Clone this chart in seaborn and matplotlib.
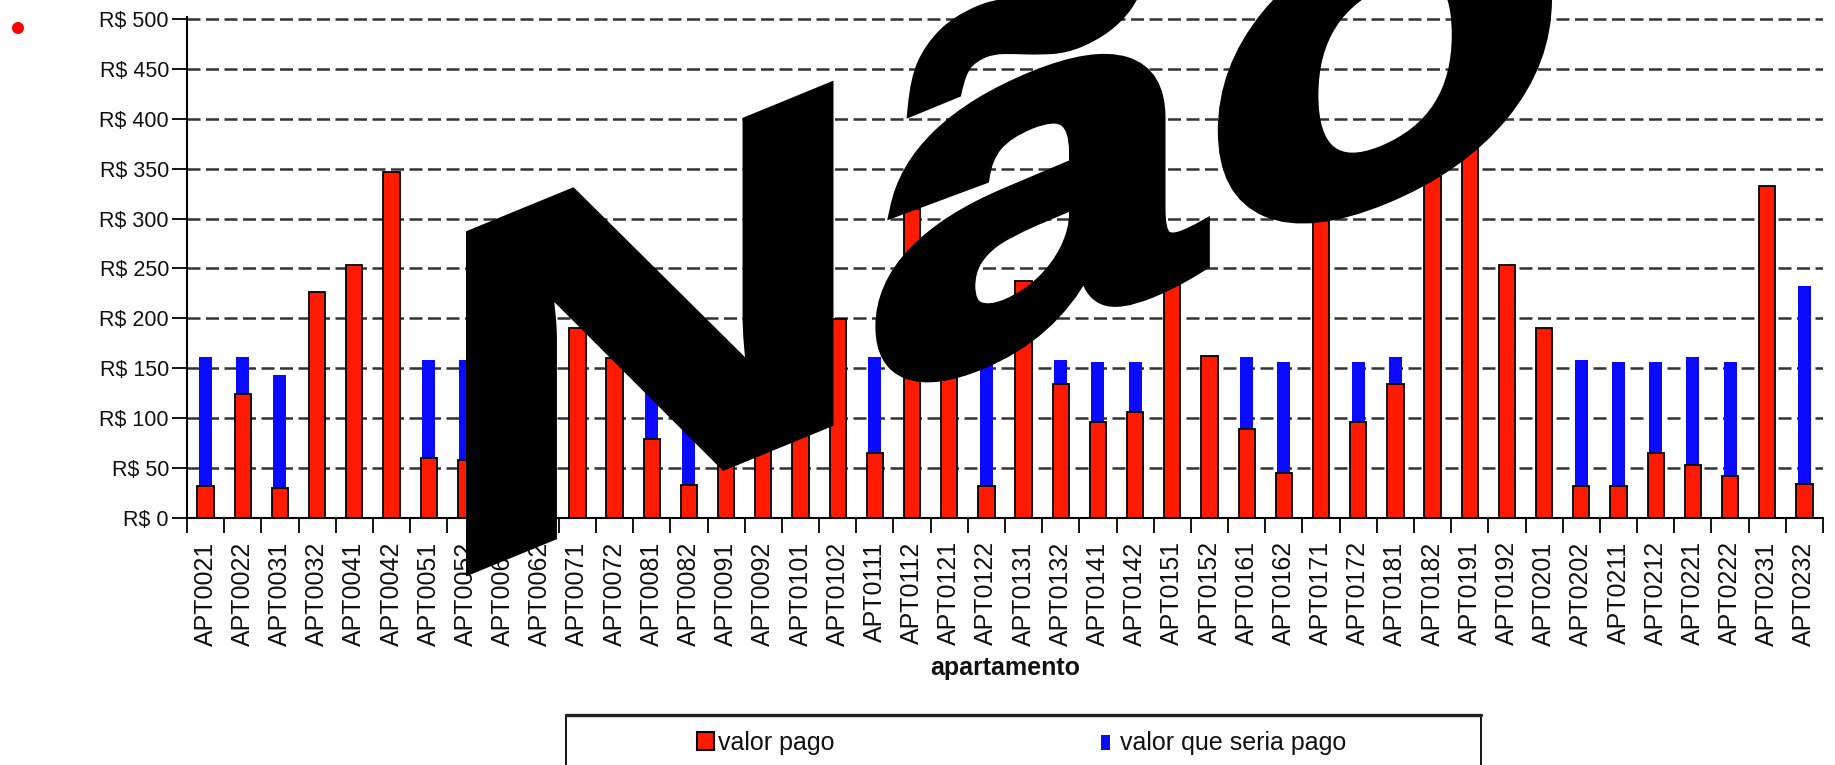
import matplotlib
matplotlib.use('Agg')
import numpy as np
import pandas as pd
import matplotlib.pyplot as plt
import seaborn as sns
from matplotlib.patches import Rectangle, Ellipse, PathPatch
from matplotlib.textpath import TextPath
from matplotlib.font_manager import FontProperties
from matplotlib.transforms import Affine2D

# dados
apartamentos = ['APT0021', 'APT0022', 'APT0031', 'APT0032', 'APT0041', 'APT0042',
                'APT0051', 'APT0052', 'APT0061', 'APT0062', 'APT0071', 'APT0072',
                'APT0081', 'APT0082', 'APT0091', 'APT0092', 'APT0101', 'APT0102',
                'APT0111', 'APT0112', 'APT0121', 'APT0122', 'APT0131', 'APT0132',
                'APT0141', 'APT0142', 'APT0151', 'APT0152', 'APT0161', 'APT0162',
                'APT0171', 'APT0172', 'APT0181', 'APT0182', 'APT0191', 'APT0192',
                'APT0201', 'APT0202', 'APT0211', 'APT0212', 'APT0221', 'APT0222',
                'APT0231', 'APT0232']
valor_pago = [32, 124, 30, 226, 254, 347,
              60, 58, 45, 210, 190, 160,
              79, 33, 60, 70, 90, 199,
              65, 310, 165, 32, 237, 134,
              96, 106, 245, 162, 89, 45,
              330, 96, 134, 345, 375, 254,
              190, 32, 32, 65, 53, 42,
              333, 34]
valor_seria = [161, 161, 143, 158, 158, 158,
               158, 158, 158, 158, 158, 158,
               158, 158, 158, 158, 158, 158,
               161, 158, 158, 158, 158, 158,
               156, 156, 158, 158, 161, 156,
               158, 156, 161, 158, 158, 158,
               158, 158, 156, 156, 161, 156,
               158, 232]
y_ticks = list(range(0, 501, 50))
y_labels = ['R$ %d' % v for v in y_ticks]
legenda = ['valor pago', 'valor que seria pago']
texto_carimbo = 'Não'

VERMELHO = '#ff1a00'
AZUL = '#0a0aff'

sns.set_style('white')
plt.rcParams['font.family'] = ['Liberation Sans', 'DejaVu Sans']

W, H = 1835, 765
fig = plt.figure(figsize=(W / 100, H / 100), dpi=100)
ax_left, ax_right, ax_top, ax_bottom = 187, 1823, 17.3, 517.7
ax = fig.add_axes([ax_left / W, 1 - ax_bottom / H, (ax_right - ax_left) / W, (ax_bottom - ax_top) / H])

df = pd.DataFrame({'apartamento': apartamentos, 'pago': valor_pago, 'seria': valor_seria})

# azul por tras, vermelho por cima
sns.barplot(data=df, x='apartamento', y='seria', color=AZUL, saturation=1, width=0.35,
            linewidth=0, errorbar=None, ax=ax)
sns.barplot(data=df, x='apartamento', y='pago', color=VERMELHO, saturation=1, width=0.44,
            edgecolor='black', linewidth=1.3, errorbar=None, ax=ax)

ax.set_xlim(-0.5, len(apartamentos) - 0.5)
ax.set_ylim(0, 502)

ax.set_yticks(y_ticks)
ax.set_yticklabels(y_labels, fontsize=15.5, color='#111111')
ax.tick_params(axis='y', direction='out', length=11, width=1.3, pad=2, left=True, colors='black')
for lbl in ax.get_yticklabels():
    lbl.set_color('#111111')

ax.set_xticks(range(len(apartamentos)))
ax.set_xticklabels(apartamentos, rotation=90, fontsize=18, color='#111111')
ax.set_xticks(np.arange(-0.5, len(apartamentos)), minor=True)
ax.tick_params(axis='x', which='major', length=0, pad=17)
ax.tick_params(axis='x', which='minor', direction='out', length=11, width=1.3, bottom=True, color='black')

ax.yaxis.grid(True, color='#333333', linestyle=(0, (5.2, 2.2)), linewidth=1.8)
ax.xaxis.grid(False)
ax.set_axisbelow(True)

for s in ['top', 'right']:
    ax.spines[s].set_visible(False)
for s in ['left', 'bottom']:
    ax.spines[s].set_color('black')
    ax.spines[s].set_linewidth(1.5)

ax.set_ylabel('')
ax.set_xlabel('apartamento', fontsize=18, fontweight='bold', color='#111111')
ax.xaxis.label.set_verticalalignment('baseline')
ax.xaxis.set_label_coords(0.5, (ax_bottom - 675) / (ax_bottom - ax_top))

# legenda desenhada a mao (caixa cortada na borda inferior)
fig.add_artist(Rectangle((566 / W, -0.1), (1481 - 566) / W, 0.1 + (765 - 715) / H,
                         transform=fig.transFigure, facecolor='white', edgecolor='black', linewidth=1.3))
fig.add_artist(plt.Line2D([566 / W, 1481 / W], [1 - 715 / H, 1 - 715 / H], transform=fig.transFigure,
                          color='#222222', linewidth=2.4))
fig.add_artist(Rectangle((697 / W, 1 - 750 / H), 17 / W, 18 / H, transform=fig.transFigure,
                         facecolor=VERMELHO, edgecolor='black', linewidth=1.5))
fig.add_artist(Rectangle((1101 / W, 1 - 750 / H), 9 / W, 15 / H, transform=fig.transFigure,
                         facecolor=AZUL, edgecolor='none'))
fig.text(718 / W, 1 - 750 / H, legenda[0], fontsize=18, va='baseline', ha='left', color='#111111')
fig.text(1120 / W, 1 - 750 / H, legenda[1], fontsize=18, va='baseline', ha='left', color='#111111')

# ponto vermelho no canto
fig.add_artist(Ellipse((18 / W, 1 - 28 / H), 12 / W, 12 / H, transform=fig.transFigure,
                       facecolor='red', edgecolor='none'))

# carimbo "Não" inclinado por cima do grafico (contorno para engrossar as letras)
fp = FontProperties(family='Liberation Sans', weight='bold')
tp = TextPath((0, 0), texto_carimbo, size=1, prop=fp)
tp_n = TextPath((0, 0), 'N', size=1, prop=fp)
ext = tp.get_extents()
cap = tp_n.get_extents().y1
stroke_px = 14
half = stroke_px / 2
sx = (1552 - 466 - stroke_px) / ext.width
sy = (344 - stroke_px) / cap
k = 0.41
x0_px, base_px = 466 + half, H - 573 + half
m = (Affine2D().translate(-ext.x0, 0).scale(sx, sy).translate(x0_px, base_px)
     + Affine2D().translate(-x0_px, 0).skew(0, np.arctan(k)).translate(x0_px, 0)
     + Affine2D().scale(1 / W, 1 / H) + fig.transFigure)
fig.add_artist(PathPatch(tp, transform=m, facecolor='black', edgecolor='black',
                         linewidth=stroke_px * 72 / 100, joinstyle='miter', zorder=10))

fig.savefig('out.png', dpi=100)
